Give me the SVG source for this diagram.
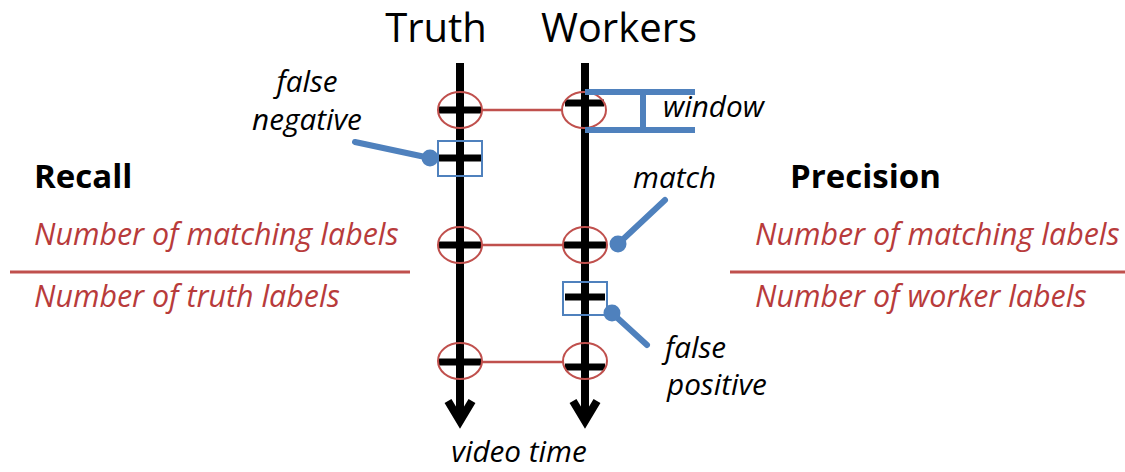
<svg xmlns="http://www.w3.org/2000/svg" width="1125" height="472" viewBox="0 0 1125 472">
<style>
.axis{stroke:#000;stroke-width:8;fill:none}
.tick{stroke:#000;stroke-width:7}
.ell{fill:none;stroke:#c0504d;stroke-width:2}
.link{stroke:#c0504d;stroke-width:2.5}
.box{fill:none;stroke:#4f81bd;stroke-width:2}
.call{stroke:#4f81bd;stroke-width:6;fill:none;stroke-linecap:round}
.dot{fill:#4f81bd}
.hd{font-family:"Open Sans",sans-serif;font-size:40px;fill:#000}
.it{font-family:"Open Sans",sans-serif;font-style:italic;font-size:29.7px;fill:#000}
.bd{font-family:"Open Sans",sans-serif;font-weight:bold;font-size:33px;fill:#000}
.fr{font-family:"Open Sans",sans-serif;font-style:italic;font-size:30.4px;fill:#b83b3b}
.frl{stroke:#c0504d;stroke-width:3}
</style>
<rect width="1125" height="472" fill="#fff"/>
<g id="truth-axis">
<text class="hd" x="436" y="42" text-anchor="middle">Truth</text>
<line class="axis" x1="460" y1="63" x2="460" y2="420"/>
<polyline class="axis" points="448,401 460,421 472,401"/>
</g>
<g id="workers-axis">
<text class="hd" x="619" y="42" text-anchor="middle">Workers</text>
<line class="axis" x1="585" y1="63" x2="585" y2="420"/>
<polyline class="axis" points="573,401 585,421 597,401"/>
</g>
<g id="connectors">
<line class="link" x1="482" y1="110" x2="563" y2="110"/>
<line class="link" x1="482" y1="245" x2="563" y2="245"/>
<line class="link" x1="482" y1="362" x2="563" y2="362"/>
<line class="call" x1="355" y1="142" x2="430" y2="158"/>
<line class="call" x1="665" y1="200" x2="618" y2="244"/>
<line class="call" x1="612" y1="313" x2="647" y2="345"/>
</g>
<g id="t1"><line class="tick" x1="438" y1="110" x2="481" y2="110"/><ellipse class="ell" cx="460" cy="110" rx="22" ry="18"/></g>
<g id="w1"><line class="tick" x1="565" y1="103" x2="604" y2="103"/><ellipse class="ell" cx="584" cy="110" rx="22" ry="18"/></g>
<g id="fn"><line class="tick" x1="439" y1="158" x2="481" y2="158"/><rect class="box" x="438" y="141" width="44" height="35"/><circle class="dot" cx="430" cy="158" r="8.5"/></g>
<g id="t2"><line class="tick" x1="438" y1="245" x2="481" y2="245"/><ellipse class="ell" cx="460" cy="245" rx="22" ry="18"/></g>
<g id="w2"><line class="tick" x1="563" y1="245" x2="606" y2="245"/><ellipse class="ell" cx="585" cy="245" rx="22" ry="18"/><circle class="dot" cx="618" cy="244" r="8.5"/></g>
<g id="fp"><line class="tick" x1="565" y1="297" x2="605" y2="297"/><rect class="box" x="563" y="282" width="44" height="33"/><circle class="dot" cx="612" cy="313" r="8.5"/></g>
<g id="t3"><line class="tick" x1="438" y1="362" x2="481" y2="362"/><ellipse class="ell" cx="460" cy="361" rx="22" ry="18"/></g>
<g id="w3"><line class="tick" x1="565" y1="367" x2="605" y2="367"/><ellipse class="ell" cx="585" cy="361" rx="22" ry="18"/></g>
<g id="window">
<path d="M585,92 H695 M585,130 H695 M643,92 V130" stroke="#4f81bd" stroke-width="6" fill="none"/>
<text class="it" x="663" y="117">window</text>
</g>
<g id="labels">
<text class="it" x="307" y="92" text-anchor="middle">false</text>
<text class="it" x="307" y="130" text-anchor="middle">negative</text>
<text class="it" x="633" y="188">match</text>
<text class="it" x="665" y="358">false</text>
<text class="it" x="667" y="395">positive</text>
<text class="it" x="519" y="462" text-anchor="middle">video time</text>
</g>
<g id="recall">
<text class="bd" x="34" y="188">Recall</text>
<text class="fr" x="34" y="245">Number of matching labels</text>
<line class="frl" x1="10" y1="272" x2="410" y2="272"/>
<text class="fr" x="34" y="307">Number of truth labels</text>
</g>
<g id="precision">
<text class="bd" x="790" y="188">Precision</text>
<text class="fr" x="755" y="245">Number of matching labels</text>
<line class="frl" x1="730" y1="272" x2="1125" y2="272"/>
<text class="fr" x="755" y="307">Number of worker labels</text>
</g>
</svg>
